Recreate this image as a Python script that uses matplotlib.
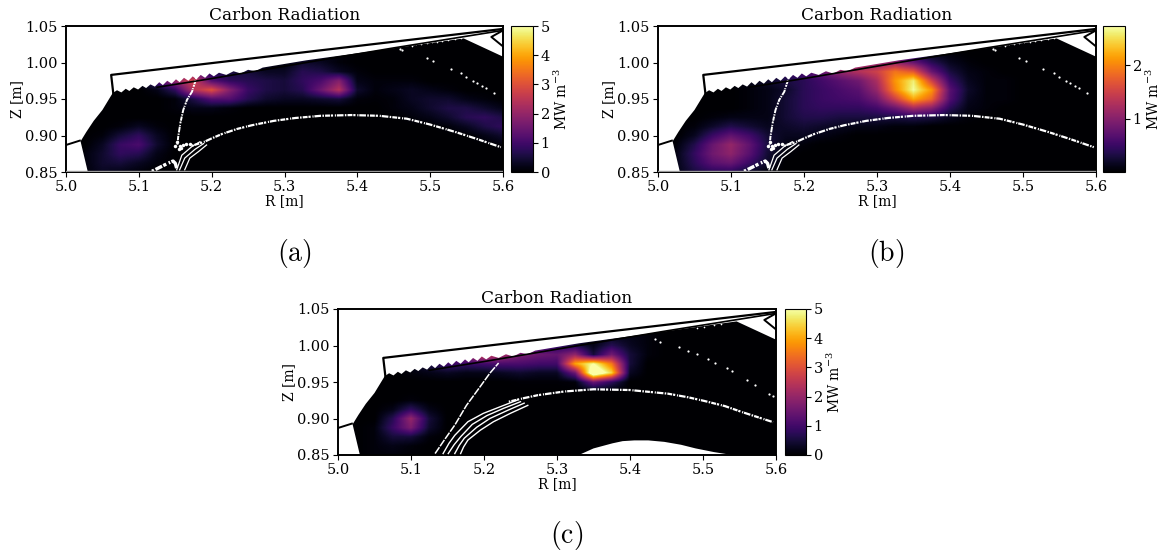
#! /usr/bin/python3

import numpy as np
import matplotlib
matplotlib.use("Agg")
import matplotlib.pyplot as plt

plt.rcParams["font.family"] = "DejaVu Serif"
plt.rcParams["mathtext.fontset"] = "dejavuserif"

# grid of the radiation maps, rows go upwards in Z
r_grid = [5.0, 5.025, 5.05, 5.075, 5.1, 5.125, 5.15, 5.175, 5.2, 5.225, 5.25, 5.275, 5.3,
          5.325, 5.35, 5.375, 5.4, 5.425, 5.45, 5.475, 5.5, 5.525, 5.55, 5.575, 5.6]
z_grid = [0.85, 0.8625, 0.875, 0.8875, 0.9, 0.9125, 0.925, 0.9375, 0.95, 0.9625, 0.975,
          0.9875, 1.0, 1.0125, 1.025, 1.0375, 1.05]

rad_a = [
    [0, .1, .3, .2, .1, 0, 0, 0, 0, 0, 0, 0, 0, 0, 0, 0, 0, 0, 0, 0, 0, 0, 0, 0, 0],
    [0, .1, .4, .5, .3, .1, 0, 0, 0, 0, 0, 0, 0, 0, 0, 0, 0, 0, 0, 0, 0, 0, 0, 0, 0],
    [0, .1, .4, .8, .7, .2, 0, 0, 0, 0, 0, 0, 0, 0, 0, 0, 0, 0, 0, 0, 0, 0, 0, 0, 0],
    [0, 0, .3, .9, 1.1, .4, 0, 0, 0, 0, 0, 0, 0, 0, 0, 0, 0, 0, 0, 0, 0, 0, 0, 0, .1],
    [0, 0, .1, .5, .8, .3, 0, 0, 0, 0, 0, 0, 0, 0, 0, 0, 0, 0, 0, 0, 0, 0, 0, .2, .4],
    [0, 0, 0, .1, .3, .1, 0, 0, 0, 0, 0, 0, 0, 0, 0, 0, 0, 0, 0, 0, 0, .1, .3, .6, .8],
    [0, 0, 0, 0, 0, 0, 0, 0, 0, 0, 0, 0, 0, 0, 0, 0, 0, 0, 0, .1, .2, .4, .7, .8, .6],
    [0, 0, 0, 0, 0, 0, .1, .2, .2, .1, 0, 0, 0, 0, 0, 0, 0, 0, .1, .2, .4, .6, .6, .4, .2],
    [0, 0, 0, 0, 0, 0, .1, .6, 1.2, 1.2, .7, .4, .3, .3, .4, .5, .1, .05, .1, .3, .4, .4, .2, .1, 0],
    [0, 0, 0, 0, 0, .2, .8, 2.4, 3.0, 1.8, .9, .6, .5, .7, 1.5, 2.4, .4, .1, .2, .3, .2, .1, 0, 0, 0],
    [0, 0, 0, 0, .2, 1.2, 2.0, 2.8, 1.2, .8, .7, .6, .5, .8, 1.1, 1.8, .2, .1, .1, .1, 0, 0, 0, 0, 0],
    [0, 0, 0, 0, .1, 1.0, 1.8, 1.6, .6, .5, .5, .3, .3, .7, .6, .3, .1, 0, 0, 0, 0, 0, 0, 0, 0],
    [0, 0, 0, 0, 0, .3, .5, .4, .2, .1, .1, .1, .1, .4, .3, .1, 0, 0, 0, 0, 0, 0, 0, 0, 0],
    [0, 0, 0, 0, 0, 0, 0, 0, 0, 0, 0, 0, 0, .1, .1, .1, 0, 0, 0, 0, 0, 0, 0, 0, 0],
    [0, 0, 0, 0, 0, 0, 0, 0, 0, 0, 0, 0, 0, 0, 0, 0, 0, 0, 0, 0, 0, 0, 0, 0, 0],
    [0, 0, 0, 0, 0, 0, 0, 0, 0, 0, 0, 0, 0, 0, 0, 0, 0, 0, 0, 0, 0, 0, 0, 0, 0],
    [0, 0, 0, 0, 0, 0, 0, 0, 0, 0, 0, 0, 0, 0, 0, 0, 0, 0, 0, 0, 0, 0, 0, 0, 0],
]

rad_b = [
    [0, .1, .3, .4, .4, .2, .05, 0, 0, 0, 0, 0, 0, 0, 0, 0, 0, 0, 0, 0, 0, 0, 0, 0, 0],
    [0, .1, .4, .7, .8, .5, .2, 0, 0, 0, 0, 0, 0, 0, 0, 0, 0, 0, 0, 0, 0, 0, 0, 0, 0],
    [0, .1, .45, .85, 1.05, .7, .25, .05, 0, 0, 0, 0, 0, 0, 0, 0, 0, 0, 0, 0, 0, 0, 0, 0, 0],
    [0, .05, .35, .8, 1.1, .75, .3, .1, .05, 0, 0, 0, 0, 0, 0, 0, 0, 0, 0, 0, 0, 0, 0, 0, 0],
    [0, 0, .15, .5, .75, .55, .25, .15, .15, .1, .05, 0, 0, 0, 0, 0, 0, 0, 0, 0, 0, 0, 0, 0, 0],
    [0, 0, .05, .2, .35, .25, .15, .2, .25, .2, .15, .1, .1, .05, .05, 0, 0, 0, 0, 0, 0, 0, 0, 0, 0],
    [0, 0, 0, .05, .1, .1, .1, .25, .35, .35, .3, .3, .3, .3, .35, .3, .15, .05, 0, 0, 0, 0, 0, 0, 0],
    [0, 0, 0, 0, 0, .05, .1, .25, .4, .45, .45, .45, .55, .8, 1.2, 1.0, .4, .1, .05, 0, 0, 0, 0, 0, 0],
    [0, 0, 0, 0, 0, .05, .1, .25, .4, .5, .55, .6, .85, 1.5, 2.2, 1.8, .65, .15, .05, .05, 0, 0, 0, 0, 0],
    [0, 0, 0, 0, 0, .05, .1, .2, .4, .5, .6, .7, 1.1, 2.0, 2.7, 2.1, .7, .2, .05, .05, 0, 0, 0, 0, 0],
    [0, 0, 0, 0, .05, .15, .2, .3, .4, .55, .7, .85, 1.25, 2.1, 2.6, 1.5, .5, .15, .05, .05, 0, 0, 0, 0, 0],
    [0, 0, 0, 0, .1, .3, .4, .5, .6, .8, 1.1, 1.3, 1.5, 1.9, 1.7, .8, .3, .1, .05, 0, 0, 0, 0, 0, 0],
    [0, 0, 0, 0, .1, .4, .4, .4, .4, .5, .8, 1.0, 1.0, 1.1, .8, .4, .15, .05, 0, 0, 0, 0, 0, 0, 0],
    [0, 0, 0, 0, 0, 0, 0, 0, 0, .1, .2, .3, .3, .3, .2, .1, .05, 0, 0, 0, 0, 0, 0, 0, 0],
    [0, 0, 0, 0, 0, 0, 0, 0, 0, 0, 0, 0, 0, 0, 0, 0, 0, 0, 0, 0, 0, 0, 0, 0, 0],
    [0, 0, 0, 0, 0, 0, 0, 0, 0, 0, 0, 0, 0, 0, 0, 0, 0, 0, 0, 0, 0, 0, 0, 0, 0],
    [0, 0, 0, 0, 0, 0, 0, 0, 0, 0, 0, 0, 0, 0, 0, 0, 0, 0, 0, 0, 0, 0, 0, 0, 0],
]

rad_c = [
    [0, 0, .1, .1, .05, 0, 0, 0, 0, 0, 0, 0, 0, 0, 0, 0, 0, 0, 0, 0, 0, 0, 0, 0, 0],
    [0, 0, .1, .2, .1, 0, 0, 0, 0, 0, 0, 0, 0, 0, 0, 0, 0, 0, 0, 0, 0, 0, 0, 0, 0],
    [0, 0, .1, .5, .5, .1, 0, 0, 0, 0, 0, 0, 0, 0, 0, 0, 0, 0, 0, 0, 0, 0, 0, 0, 0],
    [0, 0, .1, .9, 1.7, .4, 0, 0, 0, 0, 0, 0, 0, 0, 0, 0, 0, 0, 0, 0, 0, 0, 0, 0, 0],
    [0, 0, 0, .7, 2.0, .5, 0, 0, 0, 0, 0, 0, 0, 0, 0, 0, 0, 0, 0, 0, 0, 0, 0, 0, 0],
    [0, 0, 0, .2, .8, .2, 0, 0, 0, 0, 0, 0, 0, 0, 0, 0, 0, 0, 0, 0, 0, 0, 0, 0, 0],
    [0, 0, 0, 0, .1, 0, 0, 0, 0, 0, 0, 0, 0, 0, 0, 0, 0, 0, 0, 0, 0, 0, 0, 0, 0],
    [0, 0, 0, 0, 0, 0, 0, 0, 0, 0, 0, 0, 0, 0, 0, 0, 0, 0, 0, 0, 0, 0, 0, 0, 0],
    [0, 0, 0, 0, 0, 0, 0, 0, 0, 0, .05, .05, .05, .1, 1.5, .8, 0, 0, 0, 0, 0, 0, 0, 0, 0],
    [0, 0, 0, 0, .1, .2, .3, .2, .2, .3, .4, .3, .3, 1.5, 6.0, 4.5, .3, 0, 0, 0, 0, 0, 0, 0, 0],
    [0, 0, 0, 0, .2, .6, 1.0, .9, 1.0, 1.1, 1.1, 1.0, 1.0, 4.0, 5.0, 3.5, .5, 0, 0, 0, 0, 0, 0, 0, 0],
    [0, 0, 0, 0, 0, .5, 1.3, 2.2, 2.8, 2.2, 1.7, 1.5, 1.4, 2.0, .5, 1.6, .5, .1, 0, 0, 0, 0, 0, 0, 0],
    [0, 0, 0, 0, 0, 0, .6, 3.0, 5.0, 4.0, 1.5, .8, .7, .6, .2, .7, .3, .1, 0, 0, 0, 0, 0, 0, 0],
    [0, 0, 0, 0, 0, 0, 0, 0, 0, 0, 0, .1, .2, .2, .1, .2, .2, .1, 0, 0, 0, 0, 0, 0, 0],
    [0, 0, 0, 0, 0, 0, 0, 0, 0, 0, 0, 0, 0, 0, 0, 0, 0, 0, 0, 0, 0, 0, 0, 0, 0],
    [0, 0, 0, 0, 0, 0, 0, 0, 0, 0, 0, 0, 0, 0, 0, 0, 0, 0, 0, 0, 0, 0, 0, 0, 0],
    [0, 0, 0, 0, 0, 0, 0, 0, 0, 0, 0, 0, 0, 0, 0, 0, 0, 0, 0, 0, 0, 0, 0, 0, 0],
]

# edge of the map, white above it
edge_r = [5.0, 5.03, 5.02, 5.028, 5.038, 5.05, 5.064, 5.070, 5.076, 5.082, 5.087, 5.093, 5.099, 5.105,
          5.11, 5.116, 5.122, 5.128, 5.133, 5.139, 5.145, 5.151, 5.156, 5.162, 5.168, 5.174, 5.179,
          5.185, 5.191, 5.197, 5.203, 5.21, 5.22, 5.23, 5.24, 5.25, 5.26, 5.27, 5.3, 5.33, 5.417,
          5.546, 5.6, 5.6, 5.0]
edge_z = [0.85, 0.85, 0.892, 0.905, 0.92, 0.935, 0.958, 0.962, 0.959, 0.964, 0.961, 0.966, 0.963, 0.968,
          0.965, 0.970, 0.967, 0.973, 0.969, 0.975, 0.971, 0.977, 0.973, 0.979, 0.975, 0.981, 0.977,
          0.983, 0.979, 0.985, 0.981, 0.986, 0.983, 0.988, 0.985, 0.990, 0.988, 0.993, 0.998, 1.003, 1.015,
          1.033, 1.008, 1.05, 1.05]

# hole at the bottom of panel c
hole_r = [5.33, 5.35, 5.376, 5.39, 5.406, 5.425, 5.447, 5.47, 5.49, 5.515, 5.54]
hole_z = [0.85, 0.859, 0.866, 0.869, 0.870, 0.870, 0.868, 0.864, 0.859, 0.854, 0.85]

# wall
wall_top_r = [5.065, 5.062, 5.6]
wall_top_z = [0.957, 0.983, 1.046]
wall_low_r = [5.125, 5.2, 5.33, 5.45, 5.55, 5.6]
wall_low_z = [0.966, 0.978, 1.0, 1.02, 1.036, 1.044]
wall_left_r = [5.0, 5.019]
wall_left_z = [0.887, 0.893]
hook_r = [5.6, 5.584, 5.6]
hook_z = [1.044, 1.035, 1.022]

# field line traces panels a and b
sep_ab_r = [5.179, 5.173, 5.166, 5.161, 5.157, 5.154, 5.153]
sep_ab_z = [0.979, 0.96, 0.9486, 0.935, 0.917, 0.898, 0.887]
leg_ab_r = [5.118, 5.13, 5.14, 5.147, 5.15, 5.152]
leg_ab_z = [0.851, 0.857, 0.862, 0.865, 0.862, 0.855]
core_ab_r = [5.173, 5.189, 5.2, 5.214, 5.235, 5.255, 5.285, 5.315, 5.35, 5.392, 5.43, 5.468, 5.5, 5.534, 5.565, 5.597]
core_ab_z = [0.886, 0.891, 0.896, 0.902, 0.909, 0.914, 0.920, 0.924, 0.927, 0.928, 0.927, 0.923, 0.915, 0.905, 0.895, 0.884]
arcs_ab_r = [[5.152, 5.159, 5.173, 5.184], [5.156, 5.163, 5.177, 5.189], [5.163, 5.17, 5.182, 5.193]]
arcs_ab_z = [[0.853, 0.873, 0.885, 0.8915], [0.853, 0.869, 0.881, 0.889], [0.853, 0.869, 0.878, 0.887]]
xpt_r = [5.153, 5.156, 5.16, 5.165, 5.17, 5.155, 5.158, 5.15]
xpt_z = [0.891, 0.886, 0.887, 0.889, 0.889, 0.882, 0.883, 0.886]
out_ab_r = [5.459, 5.462, 5.495, 5.504, 5.528, 5.542, 5.549, 5.559, 5.564, 5.571, 5.577, 5.588]
out_ab_z = [1.019, 1.017, 1.0058, 1.002, 0.991, 0.985, 0.9806, 0.9747, 0.972, 0.968, 0.9655, 0.9587]
top_ab_r = [5.475, 5.481, 5.488, 5.495, 5.502, 5.509, 5.516, 5.525, 5.534, 5.543]
top_ab_z = [1.023, 1.025, 1.026, 1.027, 1.0277, 1.0285, 1.0295, 1.031, 1.0326, 1.0336]

# field line traces panel c
sep_c_r = [5.133, 5.147, 5.16, 5.176, 5.195, 5.208, 5.22]
sep_c_z = [0.852, 0.8725, 0.891, 0.918, 0.944, 0.962, 0.976]
core_c_r = [5.234, 5.255, 5.274, 5.31, 5.35, 5.40, 5.452, 5.48, 5.502, 5.53, 5.553, 5.596]
core_c_z = [0.923, 0.928, 0.932, 0.937, 0.94, 0.939, 0.934, 0.929, 0.924, 0.917, 0.909, 0.895]
arcs_c_r = [[5.144, 5.152, 5.16, 5.178, 5.199, 5.222, 5.245], [5.151, 5.159, 5.168, 5.184, 5.204, 5.227, 5.25],
            [5.16, 5.166, 5.173, 5.19, 5.208, 5.232, 5.255], [5.168, 5.172, 5.178, 5.195, 5.213, 5.236, 5.26]]
arcs_c_z = [[0.852, 0.866, 0.877, 0.8956, 0.907, 0.916, 0.925], [0.852, 0.864, 0.875, 0.892, 0.904, 0.914, 0.923],
            [0.852, 0.863, 0.873, 0.888, 0.90, 0.911, 0.921], [0.852, 0.861, 0.8705, 0.884, 0.8956, 0.907, 0.918]]
out_c_r = [5.434, 5.4415, 5.467, 5.479, 5.492, 5.507, 5.517, 5.533, 5.54, 5.56, 5.571, 5.591, 5.596]
out_c_z = [1.009, 1.005, 0.998, 0.9925, 0.988, 0.9815, 0.9756, 0.9687, 0.965, 0.9527, 0.946, 0.933, 0.931]
top_c_r = [5.492, 5.502, 5.515, 5.525]
top_c_z = [1.0235, 1.0258, 1.028, 1.03]

r_ticks = [5.0, 5.1, 5.2, 5.3, 5.4, 5.5, 5.6]
z_ticks = [0.85, 0.90, 0.95, 1.00, 1.05]

W, H = 1160, 554
fig = plt.figure(figsize=(W / 100, H / 100), dpi=100)

# uneven dashes for the noisy dot bands
rough = (0, (0.7, 0.5, 2.2, 0.4, 1.0, 0.8, 0.5, 0.4, 3.0, 0.6))


def px_axes(x0, x1, y0, y1):
    return fig.add_axes([x0 / W, 1 - y1 / H, (x1 - x0) / W, (y1 - y0) / H])


def panel(box, cbox, rad, vmax, cticks, letter, letter_xy):
    ax = px_axes(*box)
    dr = r_grid[1] - r_grid[0]
    dz = z_grid[1] - z_grid[0]
    im = ax.imshow(np.array(rad), origin="lower", cmap="inferno", vmin=0, vmax=vmax, aspect="auto",
                   interpolation="bilinear",
                   extent=[r_grid[0] - dr / 2, r_grid[-1] + dr / 2, z_grid[0] - dz / 2, z_grid[-1] + dz / 2])
    ax.fill(edge_r, edge_z, color="white", lw=0, zorder=2)
    ax.plot(wall_top_r, wall_top_z, color="black", lw=1.6, zorder=4)
    ax.plot(wall_low_r, wall_low_z, color="black", lw=1.2, zorder=4)
    ax.plot(wall_left_r, wall_left_z, color="black", lw=1.4, zorder=4)
    ax.plot(hook_r, hook_z, color="black", lw=1.4, zorder=4)
    ax.set_xlim(5.0, 5.6)
    ax.set_ylim(0.85, 1.05)
    ax.set_xticks(r_ticks)
    ax.set_yticks(z_ticks)
    ax.set_xticklabels(["%.1f" % v for v in r_ticks])
    ax.set_yticklabels(["%.2f" % v for v in z_ticks])
    ax.tick_params(labelsize=10.5, length=3.5, pad=2.5)
    ax.set_xlabel("R [m]", fontsize=10, labelpad=0)
    ax.set_ylabel("Z [m]", fontsize=10, labelpad=0.5)
    ax.set_title("Carbon Radiation", fontsize=12.2, pad=4)
    for s in ax.spines.values():
        s.set_linewidth(1.4)
    cax = px_axes(*cbox)
    cb = fig.colorbar(im, cax=cax)
    cb.set_ticks(cticks)
    cb.set_ticklabels([str(v) for v in cticks])
    cb.ax.tick_params(labelsize=10.5, length=3.5, pad=2)
    cb.set_label("MW m$^{-3}$", fontsize=10, labelpad=2)
    fig.text(letter_xy[0] / W, 1 - letter_xy[1] / H, letter, fontsize=20, ha="center", va="center",
             math_fontfamily="cm")
    return ax


ax_a = panel((66, 503, 26, 172), (511, 533, 26, 172), rad_a, 5, [0, 1, 2, 3, 4, 5], r"$\mathrm{(a)}$", (294, 253))
ax_b = panel((658, 1096, 26, 172), (1103, 1125, 26, 172), rad_b, 2.73, [1, 2], r"$\mathrm{(b)}$", (886, 253))
ax_c = panel((338, 776, 309, 455), (785, 806, 309, 455), rad_c, 5, [0, 1, 2, 3, 4, 5], r"$\mathrm{(c)}$", (567, 536))

ax_c.fill(hole_r, hole_z, color="white", lw=0, zorder=2)

for ax in [ax_a, ax_b]:
    ax.plot(sep_ab_r, sep_ab_z, color="white", lw=1.4, ls=rough, zorder=3)
    ax.plot(leg_ab_r, leg_ab_z, color="white", lw=2.4, ls=rough, zorder=3)
    ax.plot(core_ab_r, core_ab_z, color="white", lw=1.6, ls=rough, zorder=3)
    ax.plot(xpt_r, xpt_z, ls="none", marker="o", ms=2.5, color="white", mew=0, zorder=3)
    for tr, tz in zip(arcs_ab_r, arcs_ab_z):
        ax.plot(tr, tz, color="white", lw=0.9, zorder=3)
    ax.plot(out_ab_r, out_ab_z, ls="none", marker="o", ms=1.6, color="white", mew=0, zorder=3)
    ax.plot(top_ab_r, top_ab_z, ls="none", marker="o", ms=1.2, color="white", mew=0, zorder=3)
    ax.axhline(0.8512, color="0.6", lw=1.0, zorder=3)

ax_c.plot(sep_c_r, sep_c_z, color="white", lw=1.1, ls=(0, (5, 0.8)), zorder=3)
ax_c.plot(core_c_r, core_c_z, color="white", lw=1.6, ls=rough, zorder=3)
for tr, tz in zip(arcs_c_r, arcs_c_z):
    ax_c.plot(tr, tz, color="white", lw=1.0, zorder=3)
ax_c.plot(out_c_r, out_c_z, ls="none", marker="o", ms=1.6, color="white", mew=0, zorder=3)
ax_c.plot(top_c_r, top_c_z, ls="none", marker="o", ms=1.2, color="white", mew=0, zorder=3)

plt.savefig("out.png", dpi=100)
